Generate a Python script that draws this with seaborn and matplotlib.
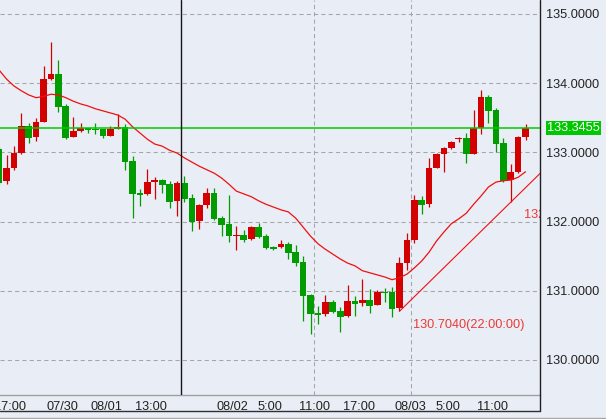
import numpy as np
import pandas as pd
import seaborn as sns
import matplotlib
matplotlib.use("Agg")
import matplotlib.pyplot as plt
from matplotlib.lines import Line2D
import matplotlib.transforms as mtransforms


# hourly candles, index 0 = first full candle on the left (17:00)
candle_idx = list(range(-1, 71))
opens = [133.05, 132.58, 132.78, 132.99, 133.38, 133.22, 133.44, 134.06, 134.13, 133.67,
         133.22, 133.31, 133.35, 133.34, 133.34, 133.24, 133.34, 133.37, 132.88, 132.41,
         132.40, 132.57, 132.60, 132.54, 132.30, 132.56, 132.34, 132.01, 132.24, 132.41,
         132.05, 131.96, 131.79, 131.81, 131.75, 131.92, 131.79, 131.63, 131.63, 131.68,
         131.56, 131.42, 130.94, 130.68, 130.66, 130.84, 130.71, 130.64, 130.85, 130.82,
         130.87, 130.79, 130.98, 130.98, 130.75, 131.40, 131.73, 132.31, 132.25, 132.77,
         132.98, 133.06, 133.19, 133.21, 132.98, 133.35, 133.80, 133.61, 133.14, 132.60,
         132.72, 133.22]
highs = [133.08, 132.96, 133.09, 133.57, 133.42, 133.50, 134.25, 134.60, 134.34, 133.70,
         133.51, 133.43, 133.35, 133.43, 133.34, 133.38, 133.56, 133.41, 132.95, 132.47,
         132.76, 132.64, 132.62, 132.59, 132.59, 132.66, 132.40, 132.25, 132.48, 132.48,
         132.08, 132.38, 131.94, 131.88, 131.94, 131.98, 131.82, 131.65, 131.73, 131.70,
         131.66, 131.50, 130.95, 130.78, 130.94, 130.86, 130.77, 131.08, 130.93, 131.17,
         131.03, 131.01, 131.04, 131.06, 131.49, 131.84, 132.38, 132.37, 132.92, 132.99,
         133.08, 133.16, 133.22, 133.28, 133.61, 133.90, 133.83, 133.64, 133.21, 132.83,
         133.24, 133.41]
lows = [132.55, 132.55, 132.75, 132.98, 133.13, 133.17, 133.44, 134.05, 133.58, 133.19,
        133.22, 133.29, 133.28, 133.27, 133.21, 133.24, 133.34, 132.75, 132.05, 132.23,
        132.38, 132.33, 132.41, 132.20, 132.08, 132.28, 131.86, 131.89, 132.20, 132.03,
        131.79, 131.70, 131.59, 131.70, 131.73, 131.76, 131.60, 131.59, 131.62, 131.46,
        131.36, 130.56, 130.38, 130.52, 130.64, 130.68, 130.40, 130.62, 130.64, 130.78,
        130.68, 130.79, 130.84, 130.62, 130.704, 131.30, 131.69, 132.11, 132.21, 132.77,
        132.72, 133.05, 133.15, 132.85, 132.98, 133.27, 133.43, 133.01, 132.57, 132.28,
        132.70, 133.18]
closes = [132.56, 132.78, 132.99, 133.38, 133.21, 133.44, 134.06, 134.13, 133.66, 133.21,
          133.31, 133.35, 133.32, 133.32, 133.24, 133.34, 133.37, 132.86, 132.40, 132.38,
          132.57, 132.60, 132.53, 132.28, 132.56, 132.33, 131.99, 132.24, 132.41, 132.04,
          131.95, 131.79, 131.81, 131.73, 131.92, 131.78, 131.62, 131.60, 131.68, 131.55,
          131.40, 130.93, 130.66, 130.65, 130.84, 130.69, 130.62, 130.85, 130.81, 130.87,
          130.78, 130.98, 130.97, 130.74, 131.40, 131.73, 132.31, 132.24, 132.77, 132.98,
          133.06, 133.15, 133.21, 132.98, 133.35, 133.80, 133.60, 133.12, 132.59, 132.72,
          133.22, 133.3455]
ma_values = [134.19, 134.06, 133.96, 133.89, 133.83, 133.79, 133.81, 133.84, 133.83, 133.79,
             133.74, 133.70, 133.67, 133.63, 133.60, 133.57, 133.54, 133.48, 133.37, 133.28,
             133.19, 133.12, 133.09, 133.03, 132.99, 132.92, 132.86, 132.80, 132.75, 132.70,
             132.63, 132.54, 132.44, 132.40, 132.36, 132.30, 132.25, 132.21, 132.17, 132.14,
             132.05, 131.92, 131.79, 131.68, 131.60, 131.53, 131.46, 131.40, 131.36, 131.29,
             131.26, 131.23, 131.20, 131.16, 131.19, 131.24, 131.33, 131.43, 131.56, 131.72,
             131.85, 131.97, 132.04, 132.12, 132.25, 132.37, 132.50, 132.57, 132.59, 132.60,
             132.64, 132.72]

tick_pos = [0.5, 7.5, 13.5, 19.5, 30.5, 35.5, 41.5, 47.5, 54.5, 59.5, 65.5]
tick_labels = ["17:00", "07/30", "08/01", "13:00", "08/02", "5:00", "11:00",
               "17:00", "08/03", "5:00", "11:00"]
vgrid_pos = [41.5, 54.5]
price_ticks = [130, 131, 132, 133, 134, 135]

last_price = 133.3455
cursor_x = 23.5
trend_x = [53, 73]
trend_y = [130.704, 132.805]
low_label = "130.7040(22:00:00)"
right_label = "132"   # only the start of this label is visible, the rest is cut by the axis

BG = "#e9edf5"
UP = "#d20000"
DOWN = "#009c00"
LINE_RED = "#f01010"
TXT_RED = "#ea3a36"

sns.set_theme(style="white", rc={"axes.facecolor": BG, "figure.facecolor": BG})
plt.rcParams["font.family"] = ["Liberation Sans", "DejaVu Sans"]

df = pd.DataFrame({"idx": candle_idx, "open": opens, "high": highs,
                   "low": lows, "close": closes, "ma": ma_values})
df["color"] = np.where(df["close"] >= df["open"], UP, DOWN)
df["body_lo"] = df[["open", "close"]].min(axis=1)
df["body_h"] = (df["close"] - df["open"]).abs().clip(lower=0.018)

W, H = 606, 419
fig = plt.figure(figsize=(W / 100, H / 100), dpi=100)
ax = fig.add_axes([0, (H - 395) / H, 540 / W, 395 / H])

# grid
for p in price_ticks:
    ax.axhline(p, color="#a6a6a6", lw=0.75, linestyle=(0, (4, 3)), zorder=0)
for v in vgrid_pos:
    ax.axvline(v, color="#a6a6a6", lw=0.75, linestyle=(0, (4, 3)), zorder=0)

# candles
ax.vlines(df["idx"], df["low"], df["high"], colors=df["color"], lw=0.9, zorder=2)
ax.bar(df["idx"], df["body_h"], bottom=df["body_lo"], width=0.9,
       color=df["color"], edgecolor="none", zorder=3)

# moving average + trend line
sns.lineplot(data=df, x="idx", y="ma", color=LINE_RED, lw=0.9, ax=ax, zorder=4)
sns.lineplot(x=trend_x, y=trend_y, color=LINE_RED, lw=0.8, ax=ax, zorder=4)

ax.axhline(last_price, color="#00cc00", lw=1.1, zorder=5)
ax.axvline(cursor_x, color="#151515", lw=1.0, zorder=5)

ax.annotate(low_label, xy=(trend_x[0], trend_y[0]), xytext=(9.5, -10),
            textcoords="offset points", ha="left", va="center",
            color=TXT_RED, fontsize=9.2)
ax.text(69.8, 132.095, right_label, ha="left", va="center", color=TXT_RED,
        fontsize=9.2, clip_on=True)

ax.set_xlim(-0.877, 71.95)
ax.set_ylim(129.494, 135.202)
ax.set_xlabel("")
ax.set_ylabel("")

ax.set_xticks(tick_pos)
ax.set_xticklabels(tick_labels)
ax.tick_params(axis="x", direction="out", length=3, width=0.8, color="#a0a0a0",
               labelsize=9.2, labelcolor="#222222", pad=1.5)

ax.yaxis.tick_right()
ax.set_yticks(price_ticks)
ax.set_yticklabels([f"{p:.4f}" for p in price_ticks])
ax.tick_params(axis="y", length=0, labelsize=9.2, labelcolor="#222222", pad=4.6)

for s in ["top", "left", "right"]:
    ax.spines[s].set_visible(False)
ax.spines["bottom"].set_color("#a0a0a0")
ax.spines["bottom"].set_linewidth(1.0)

# current price tag on the right axis
tr = mtransforms.blended_transform_factory(fig.transFigure, ax.transData)
ax.text(547 / W, last_price, f"{last_price:.4f}", transform=tr, ha="left", va="center",
        color="white", fontsize=9.2, clip_on=False,
        bbox=dict(boxstyle="square,pad=0.08", fc="#00c800", ec="none"))

# frame lines of the chart window
fig.add_artist(Line2D([540 / W, 540 / W], [(H - 411) / H, 1], transform=fig.transFigure,
                      color="#202020", lw=1.0))
fig.add_artist(Line2D([0, 540 / W], [(H - 411) / H, (H - 411) / H], transform=fig.transFigure,
                      color="#303030", lw=1.0))
fig.add_artist(Line2D([0, 1], [(H - 418) / H, (H - 418) / H], transform=fig.transFigure,
                      color="#a8a8a8", lw=1.0))

fig.savefig("out.png", dpi=100, facecolor=BG)
